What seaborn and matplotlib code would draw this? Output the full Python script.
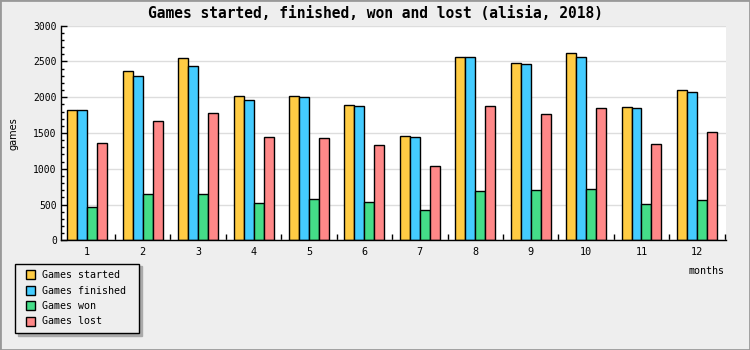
import matplotlib
matplotlib.use("Agg")
import matplotlib.pyplot as plt
from matplotlib.patches import Patch, Rectangle
from matplotlib.legend_handler import HandlerPatch
from matplotlib.ticker import MultipleLocator, FixedLocator
import pandas as pd
import seaborn as sns

months = ["1", "2", "3", "4", "5", "6", "7", "8", "9", "10", "11", "12"]
games_started = [1816, 2361, 2543, 2012, 2012, 1886, 1453, 2557, 2473, 2613, 1858, 2096]
games_finished = [1816, 2291, 2431, 1956, 1998, 1872, 1439, 2557, 2459, 2557, 1844, 2068]
games_won = [461, 643, 643, 517, 573, 531, 419, 685, 699, 712, 503, 559]
games_lost = [1355, 1662, 1774, 1439, 1425, 1327, 1034, 1872, 1760, 1844, 1341, 1509]
series_names = ["Games started", "Games finished", "Games won", "Games lost"]
colors = ["#ffcc44", "#44ccff", "#44dd88", "#ff8888"]

rows = []
for name, vals in zip(series_names, [games_started, games_finished, games_won, games_lost]):
    for m, v in zip(months, vals):
        rows.append({"month": m, "series": name, "value": v})
df = pd.DataFrame(rows)

mono = "DejaVu Sans Mono"
fig = plt.figure(figsize=(7.5, 3.5), dpi=100, facecolor="#eeeeee")
ax = fig.add_axes([61 / 750, 1 - 240.3 / 350, 665 / 750, 214.6 / 350])
ax.set_facecolor("white")

sns.barplot(data=df, x="month", y="value", hue="series", order=months,
            hue_order=series_names, palette=colors, width=0.72, dodge=True,
            edgecolor="black", linewidth=1.0, errorbar=None, saturation=1,
            legend=False, ax=ax, zorder=3)

ax.set_xlim(-0.475, 11.525)
ax.set_ylim(0, 3000)
ax.yaxis.set_major_locator(MultipleLocator(500))
ax.yaxis.set_minor_locator(MultipleLocator(100))
ax.xaxis.set_minor_locator(FixedLocator([i + 0.5 for i in range(12)]))
ax.grid(axis="y", which="major", color="#dddddd", linewidth=1.0, zorder=0)
ax.set_axisbelow(True)
for s in ["top", "right"]:
    ax.spines[s].set_visible(False)
for s in ["left", "bottom"]:
    ax.spines[s].set_color("black")
    ax.spines[s].set_linewidth(1.0)
    ax.spines[s].set_zorder(4)

ax.tick_params(axis="y", which="major", direction="in", length=4.5, width=1,
               pad=3, labelsize=7)
ax.tick_params(axis="y", which="minor", direction="in", length=2.5, width=1)
ax.tick_params(axis="x", which="major", length=0, pad=5, labelsize=7.3)
ax.tick_params(axis="x", which="minor", direction="in", length=4.5, width=1)
for lab in ax.get_xticklabels() + ax.get_yticklabels():
    lab.set_fontfamily(mono)

ax.set_ylabel("games", fontsize=7, family="DejaVu Sans")
ax.yaxis.set_label_coords(-0.064, 0.495)
ax.set_xlabel("months", fontsize=7.2, family=mono, loc="right")
ax.xaxis.set_label_coords(0.997, -0.143)
ax.xaxis.label.set_verticalalignment("center")

fig.text(0.5, 1 - 13 / 350, "Games started, finished, won and lost (alisia, 2018)",
         ha="center", va="center", fontsize=10.5, fontweight="bold", family=mono)


def square_patch(legend, orig_handle, xdescent, ydescent, width, height, fontsize):
    return Rectangle((width - height - xdescent, -ydescent), height, height)


handles = [Patch(facecolor=c, edgecolor="black", linewidth=1.0) for c in colors]
labels = [n + " " for n in series_names]
leg = fig.legend(handles, labels, loc="upper left",
                 bbox_to_anchor=(15 / 750, 1 - 263.5 / 350), borderaxespad=0,
                 prop={"family": mono, "size": 7.2}, frameon=True, fancybox=False,
                 shadow={"color": "#aaaaaa", "alpha": 1}, handlelength=1.3,
                 handleheight=1.0, handletextpad=0.8, labelspacing=0.55,
                 borderpad=0.65,
                 handler_map={Patch: HandlerPatch(patch_func=square_patch)})
leg.get_frame().set_edgecolor("black")
leg.get_frame().set_facecolor("#eeeeee")
leg.get_frame().set_linewidth(1.0)

fig.patches.append(Rectangle((0, 0), 1, 1, transform=fig.transFigure, fill=False,
                             edgecolor="#999999", linewidth=2))

fig.savefig("out.png", dpi=100, facecolor=fig.get_facecolor())
